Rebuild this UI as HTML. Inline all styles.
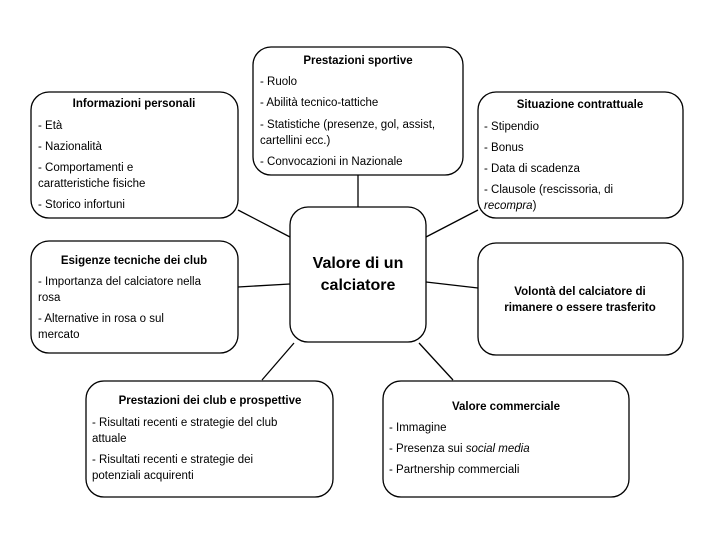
<!DOCTYPE html>
<html><head><meta charset="utf-8"><style>
html,body{margin:0;padding:0;background:#fff;}
svg text{font-family:"Liberation Sans",sans-serif;fill:#000;}
.t{font-size:11.5px;}
.b{font-size:11.5px;font-weight:bold;}
</style></head><body>
<svg width="715" height="528" viewBox="0 0 715 528" xmlns="http://www.w3.org/2000/svg">
<g stroke="#000" stroke-width="1.3" fill="none">
<line x1="238" y1="210" x2="290" y2="237"/>
<line x1="238" y1="287" x2="290" y2="284"/>
<line x1="358" y1="175" x2="358" y2="207"/>
<line x1="478" y1="210" x2="426" y2="237"/>
<line x1="426" y1="282" x2="478" y2="288"/>
<line x1="294" y1="343" x2="262" y2="380"/>
<line x1="419" y1="343" x2="453" y2="380"/>
<rect x="31" y="92" width="207" height="126" rx="18"/>
<rect x="253" y="47" width="210" height="128" rx="18"/>
<rect x="478" y="92" width="205" height="126" rx="18"/>
<rect x="290" y="207" width="136" height="135" rx="18"/>
<rect x="31" y="241" width="207" height="112" rx="18"/>
<rect x="478" y="243" width="205" height="112" rx="18"/>
<rect x="86" y="381" width="247" height="116" rx="18"/>
<rect x="383" y="381" width="246" height="116" rx="18"/>
</g>
<text class="b" x="134" y="107" text-anchor="middle">Informazioni personali</text>
<text class="t" x="38" y="129">- Età</text>
<text class="t" x="38" y="150">- Nazionalità</text>
<text class="t" x="38" y="171">- Comportamenti e</text>
<text class="t" x="38" y="187">caratteristiche fisiche</text>
<text class="t" x="38" y="208">- Storico infortuni</text>

<text class="b" x="358" y="64" text-anchor="middle">Prestazioni sportive</text>
<text class="t" x="260" y="85">- Ruolo</text>
<text class="t" x="260" y="106">- Abilità tecnico-tattiche</text>
<text class="t" x="260" y="128">- Statistiche (presenze, gol, assist,</text>
<text class="t" x="260" y="144">cartellini ecc.)</text>
<text class="t" x="260" y="165">- Convocazioni in Nazionale</text>

<text class="b" x="580" y="108" text-anchor="middle">Situazione contrattuale</text>
<text class="t" x="484" y="130">- Stipendio</text>
<text class="t" x="484" y="151">- Bonus</text>
<text class="t" x="484" y="172">- Data di scadenza</text>
<text class="t" x="484" y="193">- Clausole (rescissoria, di</text>
<text class="t" x="484" y="209"><tspan font-style="italic">recompra</tspan>)</text>

<text x="358" y="268" text-anchor="middle" style="font-size:16px;font-weight:bold">Valore di un</text>
<text x="358" y="290" text-anchor="middle" style="font-size:16px;font-weight:bold">calciatore</text>

<text class="b" x="134" y="264" text-anchor="middle">Esigenze tecniche dei club</text>
<text class="t" x="38" y="285">- Importanza del calciatore nella</text>
<text class="t" x="38" y="301">rosa</text>
<text class="t" x="38" y="322">- Alternative in rosa o sul</text>
<text class="t" x="38" y="338">mercato</text>

<text class="b" x="580" y="295" text-anchor="middle">Volontà del calciatore di</text>
<text class="b" x="580" y="311" text-anchor="middle">rimanere o essere trasferito</text>

<text class="b" x="210" y="404" text-anchor="middle">Prestazioni dei club e prospettive</text>
<text class="t" x="92" y="426">- Risultati recenti e strategie del club</text>
<text class="t" x="92" y="442">attuale</text>
<text class="t" x="92" y="463">- Risultati recenti e strategie dei</text>
<text class="t" x="92" y="479">potenziali acquirenti</text>

<text class="b" x="506" y="410" text-anchor="middle">Valore commerciale</text>
<text class="t" x="389" y="431">- Immagine</text>
<text class="t" x="389" y="452">- Presenza sui <tspan font-style="italic">social media</tspan></text>
<text class="t" x="389" y="473">- Partnership commerciali</text>
</svg>
</body></html>
